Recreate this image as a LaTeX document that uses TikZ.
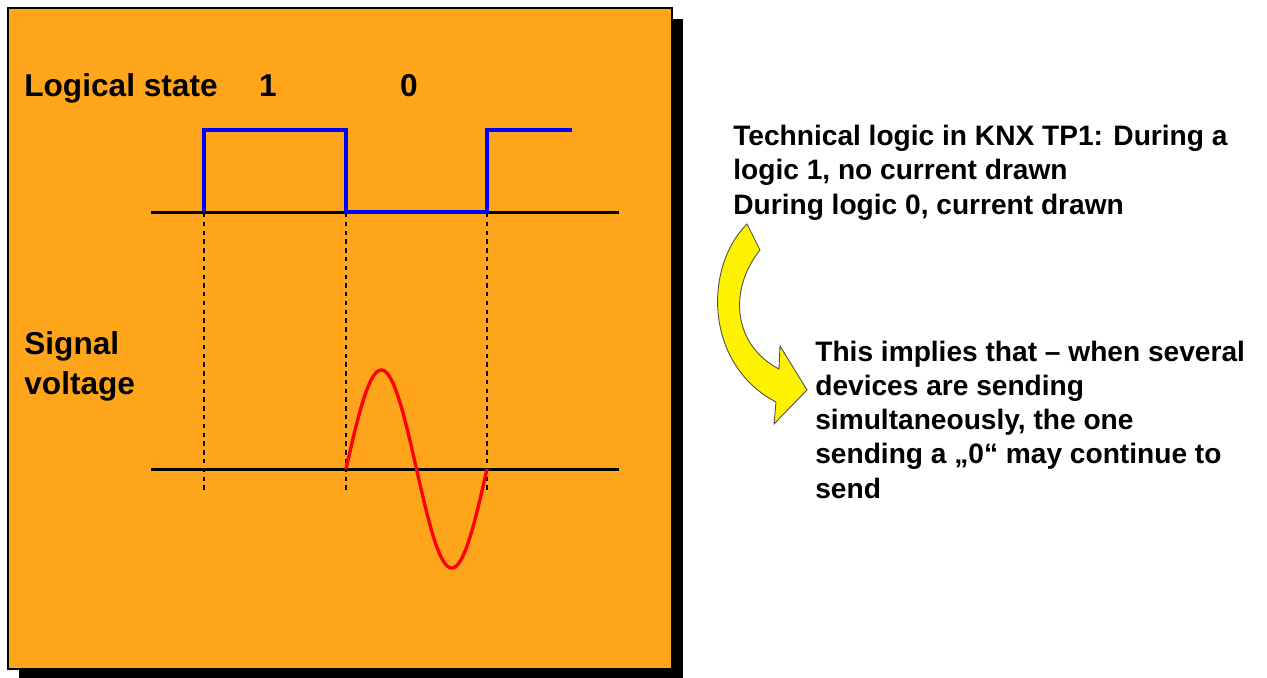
\documentclass[tikz,border=0pt]{standalone}
\usepackage{fontspec}
\setmainfont{Liberation Sans}
\definecolor{boxorange}{RGB}{255,165,28}

\begin{document}
\begin{tikzpicture}[x=0.02cm,y=-0.02cm,
    axis/.style={black,line width=1.7pt},
    level/.style={blue,line width=1.9pt},
    guide/.style={black,dash pattern=on 2.5pt off 2.5pt,line width=0.7pt},
    lbl/.style={font=\bfseries\fontsize{18}{22.7}\selectfont,inner sep=0pt,align=left},
    note/.style={font=\bfseries\fontsize{16}{19.4}\selectfont,inner sep=0pt,align=left}]
    \useasboundingbox (0,0) rectangle (1267,677);

    \fill (19,19) rectangle (683,680);
    \draw [fill=boxorange,line width=0.8pt] (8,8) rectangle (672,669);

    \coordinate (t1) at (204,212);
    \coordinate (t2) at (346,212);
    \coordinate (t3) at (487,212);

    \draw [axis] (151,212) -- (619,212);
    \draw [axis] (151,469) -- (619,469);

    \foreach \x in {204,346,487}
        \draw [guide] (\x,213) -- (\x,494);

    \draw [level] (t1) -- ++(0,-82) -| (t2) -- (t3) -- ++(0,-82) -- ++(85,0);

    % \draw [red] (t2) -- (t3);
    \draw [red,line width=1.9pt] plot [domain=0:360,samples=80,smooth] ({346+0.39167*\x},{469-99*sin(\x)});

    \node [lbl,anchor=base west] (state) at (24,96) {Logical state};
    \node [lbl,anchor=base] (one) at (268,96) {1};
    \node [lbl,anchor=base] (zero) at (409,96) {0};
    \node [lbl,anchor=base west] (signal) at (24,394) {Signal\\voltage};

    \draw [fill=yellow,draw=black!70,line width=0.5pt] (747,224) .. controls (703,268) and (705,365) .. (776,402)
        -- (774,424) -- (807,390) -- (780,346) -- (779,369) .. controls (733,345) and (728,290) .. (760,250) -- cycle;

    \node [note,anchor=base west] (techlogic) at (733,214) {Technical logic in KNX TP1: During a\\logic 1, no current drawn\\During logic 0, current drawn};
    \node [note,anchor=base west] (implies) at (815,498) {This implies that -- when several\\devices are sending\\simultaneously, the one\\sending a „0“ may continue to\\send};

\end{tikzpicture}
\end{document}
